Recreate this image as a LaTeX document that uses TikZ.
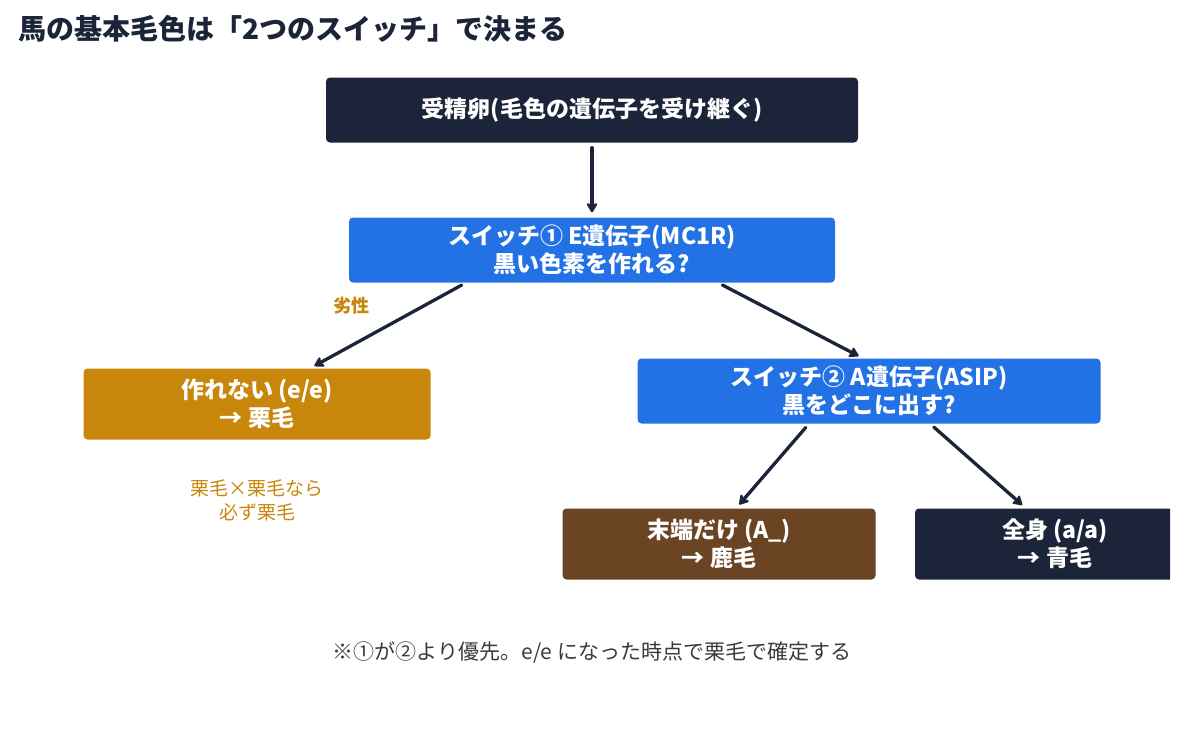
\documentclass[tikz,border=0pt]{standalone}
\usepackage{fontspec}
\setmainfont{Noto Sans CJK JP}
\usetikzlibrary{arrows.meta,positioning}

\definecolor{navy}{HTML}{1B2438}
\definecolor{switchblue}{HTML}{2272E6}
\definecolor{ochre}{HTML}{C8860A}
\definecolor{bay}{HTML}{6B4423}
\definecolor{notegray}{HTML}{3A3A3A}

\begin{document}
\begin{tikzpicture}[x=1pt,y=-1pt,
  box/.style={rounded corners=4pt,text=white,align=center,
    font=\fontsize{23}{28}\selectfont\bfseries,inner sep=0pt},
  genebox/.style={box,fill=switchblue,minimum width=486pt,minimum height=65pt},
  coatbox/.style={box,minimum width=313pt,minimum height=71pt},
  flow/.style={-{Stealth[length=11pt,width=13pt,inset=2.5pt,round]},draw=navy,
    line width=3.3pt,line cap=round,shorten <=5pt,shorten >=5pt}
]
\useasboundingbox (0,0) rectangle (1185,734);
\node[anchor=west,text=navy,font=\fontsize{28}{30}\selectfont\bfseries] (title) at (15,29)
  {馬の基本毛色は「2つのスイッチ」で決まる};
\node[box,fill=navy,minimum width=532pt,minimum height=65pt] (egg) at (592,110)
  {受精卵(毛色の遺伝子を受け継ぐ)};
\node[genebox] (swE) at (592,250) {スイッチ① E遺伝子(MC1R)\\黒い色素を作れる?};
\node[box,fill=ochre,minimum width=347pt,minimum height=71pt] (chestnut) at (257,404)
  {作れない (e/e)\\→ 栗毛};
\node[genebox,minimum width=463pt] (swA) at (869,391) {スイッチ② A遺伝子(ASIP)\\黒をどこに出す?};
\node[coatbox,fill=bay] (baycoat) at (719,544) {末端だけ (A\_)\\→ 鹿毛};
\begin{scope}
  \clip (0,0) rectangle (1170,734);
  \node[coatbox,fill=navy,minimum width=280pt] (black) at (1055,544) {全身 (a/a)\\→ 青毛};
\end{scope}
\node[text=ochre,align=center,font=\fontsize{19}{24}\selectfont] (note) at (257,500)
  {栗毛×栗毛なら\\必ず栗毛};
\node[text=notegray,font=\fontsize{21}{24}\selectfont] (footnote) at (592,652)
  {※①が②より優先。e/e になった時点で栗毛で確定する};

\draw[flow] (egg.south) -- (swE.north);
\draw[flow] ([xshift=-126pt]swE.south) --
  node[pos=.3,xshift=-68pt,yshift=3pt,text=ochre,font=\fontsize{18}{20}\selectfont\bfseries] {劣性}
  ([xshift=53pt]chestnut.north);
\draw[flow] ([xshift=126pt]swE.south) -- ([xshift=-6pt]swA.north);
\draw[flow] ([xshift=-60pt]swA.south) -- ([xshift=17pt]baycoat.north);
\draw[flow] ([xshift=61pt]swA.south) -- ([xshift=-29pt]black.north);
\end{tikzpicture}
\end{document}
